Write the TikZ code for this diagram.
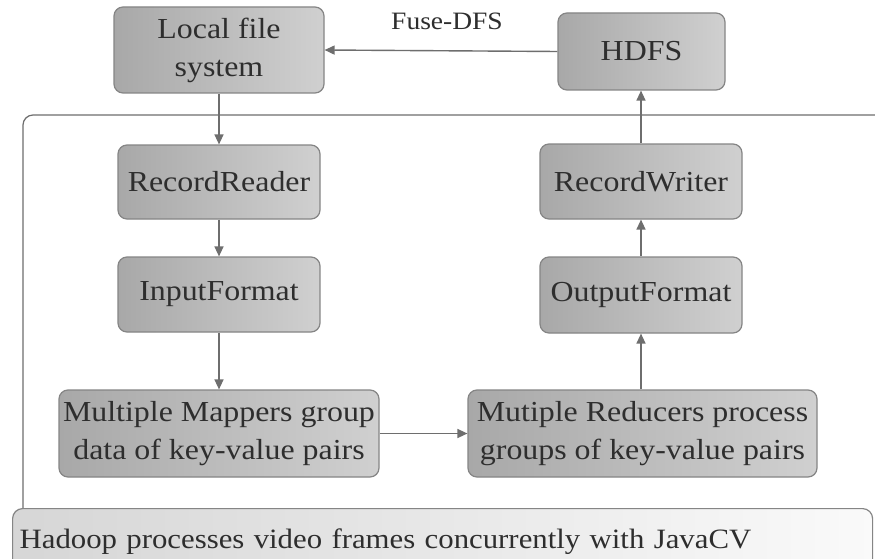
\documentclass[tikz,border=0pt]{standalone}
\usepackage{fontspec}
\setmainfont{Liberation Serif}[FakeStretch=1.1]
\usetikzlibrary{arrows.meta,shadings}
\definecolor{txt}{HTML}{2E2E2E}
\definecolor{edge}{HTML}{6E6E6E}
\definecolor{boxl}{HTML}{A8A8A8}
\definecolor{boxr}{HTML}{D0D0D0}
\definecolor{boxline}{HTML}{858585}
\tikzset{
  stage/.style={draw=boxline, line width=1.2pt, rounded corners=9pt,
    left color=boxl, right color=boxr, text=txt, align=center,
    font=\fontsize{29}{38}\selectfont, inner sep=0pt},
  flow/.style={draw=edge, line width=1.4pt,
    -{Triangle[length=10pt,width=9pt]}},
  banner/.style={draw=boxline, line width=1.2pt, rounded corners=10pt,
    left color=gray!32, right color=gray!4, text=txt,
    font=\fontsize{28}{36}\selectfont, inner sep=0pt},
}
\begin{document}
\begin{tikzpicture}[x=1pt,y=-1pt]
  \useasboundingbox (0,0) rectangle (875,559);
  \fill[white] (0,0) rectangle (875,559);

  % cluster frame (open to the right, closed below by the banner)
  \draw[edge, line width=1.2pt, rounded corners=10pt]
    (880,115) -- (23,115) -- (23,530);

  % stages
  \node[stage, minimum width=210pt, minimum height=86pt] (lfs) at (219,50) {Local file\\system};
  \node[stage, minimum width=167pt, minimum height=77pt] (hdfs) at (641.5,51.5) {HDFS};
  \node[stage, minimum width=202pt, minimum height=74pt] (rr) at (219,182) {RecordReader};
  \node[stage, minimum width=202pt, minimum height=75pt] (inf) at (219,294.5) {InputFormat};
  \node[stage, minimum width=202pt, minimum height=75pt] (rw) at (641,181.5) {RecordWriter};
  \node[stage, minimum width=202pt, minimum height=76pt] (of) at (641,295) {OutputFormat};
  \node[stage, minimum width=320pt, minimum height=87pt] (map) at (219,433.5) {Multiple Mappers group\\data of key-value pairs};
  \node[stage, minimum width=349pt, minimum height=87pt] (red) at (642.5,433.5) {Mutiple Reducers process\\groups of key-value pairs};

  % banner along the bottom
  \node[banner, minimum width=860pt, minimum height=67pt, anchor=north west,
        text width=846pt, align=left] (hadoop) at (12,508)
        {Hadoop processes video frames concurrently with JavaCV};

  % label of the mount link
  \node[text=txt, font=\fontsize{25}{28}\selectfont, inner sep=0pt] (fuse) at (447,21) {Fuse-DFS};

  % connectors
  \draw[flow] (hdfs.west) -- (lfs.east);
  \draw[flow] (lfs.south) -- (rr.north);
  \draw[flow] (rr.south) -- (inf.north);
  \draw[flow] (inf.south) -- (map.north);
  \draw[flow] (map.east) -- (red.west);
  \draw[flow] (red.north -| of.south) -- (of.south);
  \draw[flow] (of.north) -- (rw.south);
  \draw[flow] (rw.north) -- (rw.north |- hdfs.south);
\end{tikzpicture}
\end{document}
